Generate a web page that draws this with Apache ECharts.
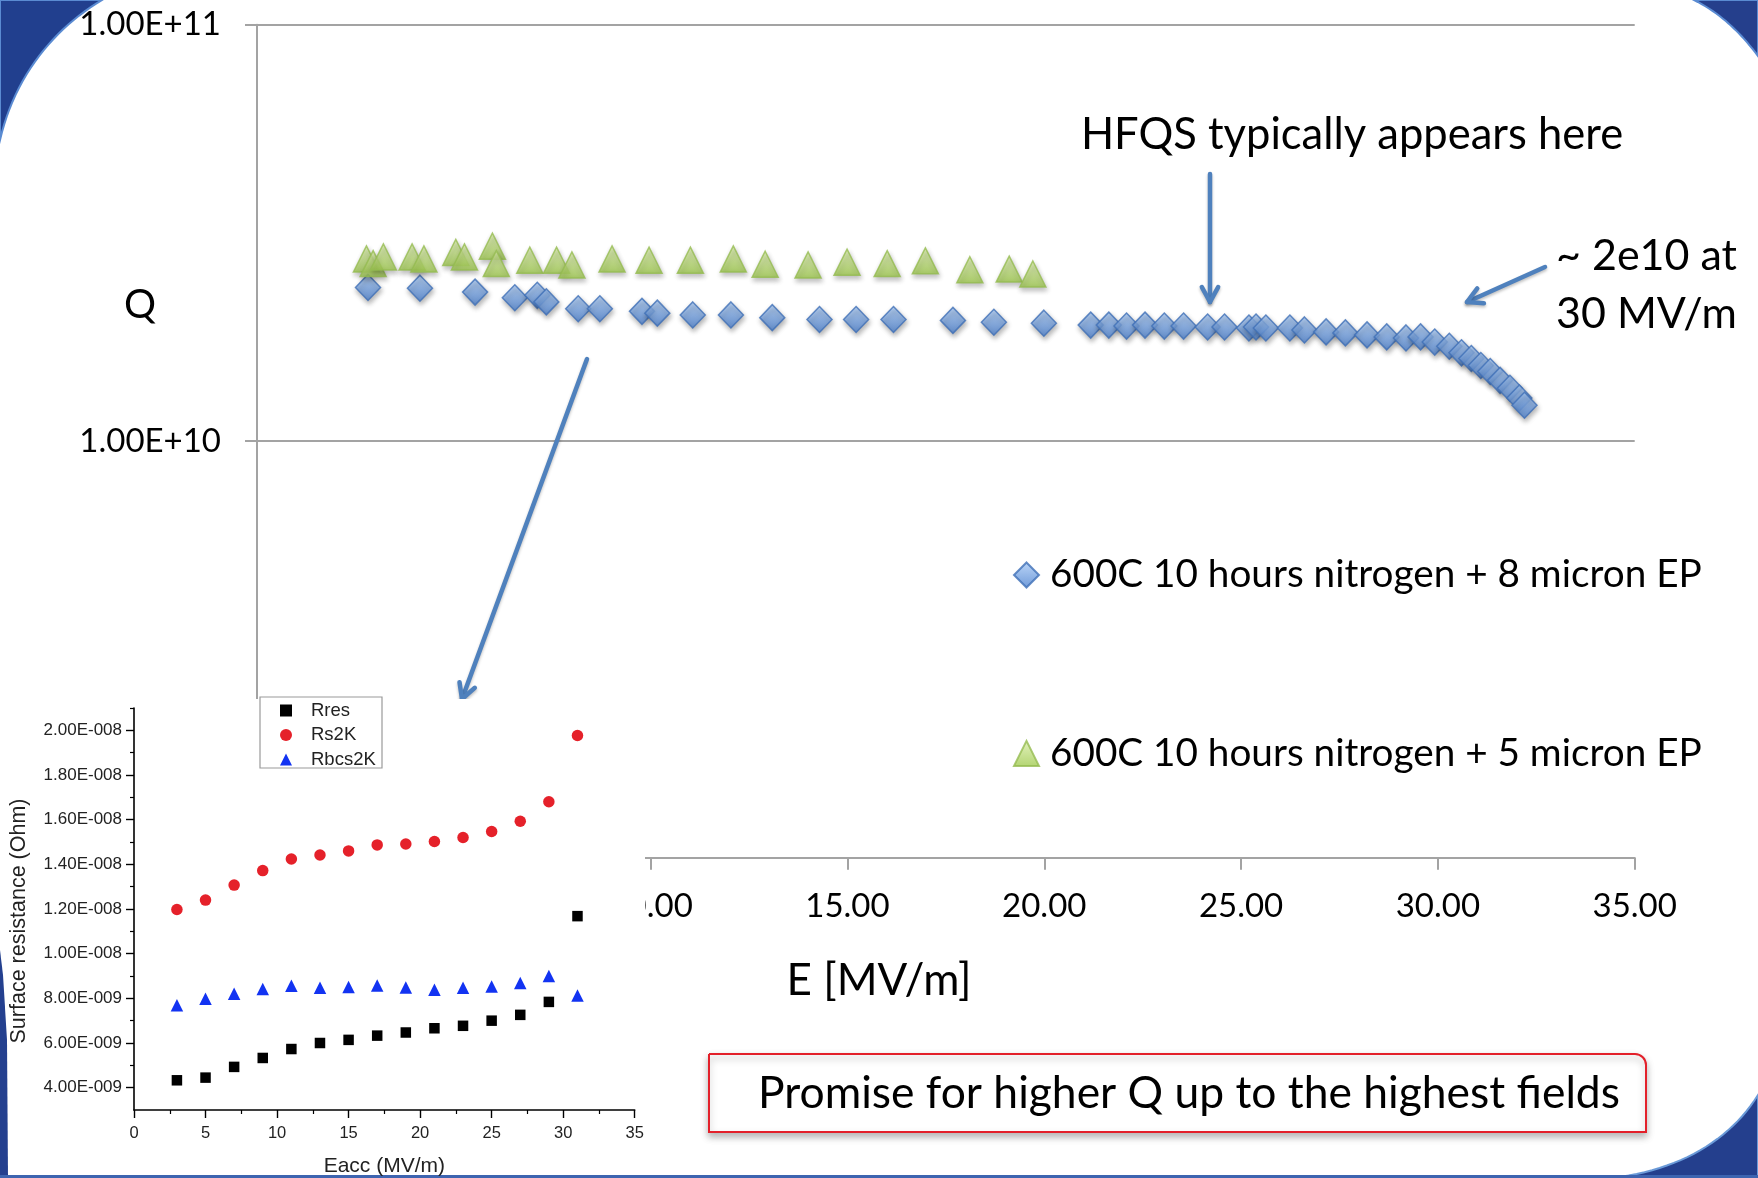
<!DOCTYPE html>
<html><head><meta charset="utf-8">
<script src="https://cdn.jsdelivr.net/npm/echarts@6/dist/echarts.min.js"></script>
<style>html,body{margin:0;padding:0;background:#fff}#c{width:1758px;height:1178px}</style>
</head><body><div id="c"></div>
<script>
// ---------- data ----------
const blueName = '600C 10 hours nitrogen + 8 micron EP';
const greenName = '600C 10 hours nitrogen + 5 micron EP';

const blueE = [2.82,4.14,5.54,6.55,7.12,7.35,8.16,8.71,9.78,10.17,11.07,12.04,13.09,14.29,15.22,16.17,17.68,18.72,19.99,21.18,21.64,22.09,22.56,23.05,23.54,24.15,24.58,25.2,25.38,25.63,26.24,26.61,27.16,27.65,28.2,28.7,29.19,29.56,29.92,30.29,30.6,30.85,31.09,31.33,31.58,31.83,32.07,32.2];
const blueQ = [2.34e10,2.33e10,2.28e10,2.21e10,2.24e10,2.16e10,2.08e10,2.08e10,2.05e10,2.03e10,2.01e10,2.01e10,1.98e10,1.96e10,1.96e10,1.96e10,1.95e10,1.93e10,1.92e10,1.90e10,1.90e10,1.89e10,1.90e10,1.89e10,1.89e10,1.88e10,1.88e10,1.87e10,1.88e10,1.87e10,1.87e10,1.85e10,1.83e10,1.82e10,1.80e10,1.78e10,1.77e10,1.78e10,1.73e10,1.69e10,1.63e10,1.58e10,1.52e10,1.47e10,1.40e10,1.34e10,1.27e10,1.22e10];

const greenE = [2.78,2.95,3.21,3.94,4.24,5.05,5.27,5.98,6.08,6.93,7.61,8.0,9.02,9.96,11.01,12.1,12.91,14.0,14.99,16.01,16.98,18.11,19.11,19.71];
const greenQ = [2.74e10,2.67e10,2.77e10,2.77e10,2.74e10,2.84e10,2.77e10,2.94e10,2.67e10,2.72e10,2.72e10,2.65e10,2.74e10,2.72e10,2.72e10,2.74e10,2.66e10,2.65e10,2.69e10,2.67e10,2.71e10,2.58e10,2.59e10,2.52e10];

const insetE = [3,5,7,9,11,13,15,17,19,21,23,25,27,29,31];
const rres   = [4.33e-9,4.45e-9,4.93e-9,5.33e-9,5.73e-9,6.00e-9,6.14e-9,6.33e-9,6.47e-9,6.66e-9,6.77e-9,7.00e-9,7.26e-9,7.84e-9,1.168e-8];
const rs2k   = [1.198e-8,1.240e-8,1.307e-8,1.372e-8,1.424e-8,1.442e-8,1.460e-8,1.487e-8,1.491e-8,1.502e-8,1.520e-8,1.547e-8,1.593e-8,1.680e-8,1.977e-8];
const rbcs2k = [7.69e-9,7.98e-9,8.20e-9,8.42e-9,8.56e-9,8.47e-9,8.51e-9,8.57e-9,8.48e-9,8.38e-9,8.47e-9,8.53e-9,8.69e-9,9.00e-9,8.13e-9];

const insetMajorY = [4e-9,6e-9,8e-9,1e-8,1.2e-8,1.4e-8,1.6e-8,1.8e-8,2e-8];
const insetMinorY = [5e-9,7e-9,9e-9,1.1e-8,1.3e-8,1.5e-8,1.7e-8,1.9e-8,2.1e-8];

// ---------- helpers ----------
function sci3(v){
  let e = Math.floor(Math.log10(v) + 1e-9);
  let m = v / Math.pow(10, e);
  if (m >= 9.995) { m /= 10; e += 1; }
  const s = e < 0 ? '-' : '+';
  return m.toFixed(2) + 'E' + s + String(Math.abs(e)).padStart(3, '0');
}
function sci2(v){
  const e = Math.round(Math.log10(v));
  const m = v / Math.pow(10, e);
  return m.toFixed(2) + 'E+' + String(e).padStart(2, '0');
}
function bez(p0, p1, p2, p3, n){
  const pts = [];
  for (let i = 0; i <= n; i++){
    const t = i / n, u = 1 - t;
    pts.push([u*u*u*p0[0] + 3*u*u*t*p1[0] + 3*u*t*t*p2[0] + t*t*t*p3[0],
              u*u*u*p0[1] + 3*u*u*t*p1[1] + 3*u*t*t*p2[1] + t*t*t*p3[1]]);
  }
  return pts;
}
const ARROW = '#4f81bd';
function arrow(x1, y1, x2, y2, z){
  const a = Math.atan2(y2 - y1, x2 - x1), L = 17, w = 0.5;
  const p1 = [x2 - L*Math.cos(a - w), y2 - L*Math.sin(a - w)];
  const p2 = [x2 - L*Math.cos(a + w), y2 - L*Math.sin(a + w)];
  const st = {stroke: ARROW, lineWidth: 4.5, lineCap: 'round', lineJoin: 'round', fill: null,
              shadowBlur: 3, shadowOffsetY: 2, shadowColor: 'rgba(0,0,0,0.25)'};
  return [
    {type: 'line', z: z, shape: {x1: x1, y1: y1, x2: x2, y2: y2}, style: st},
    {type: 'polyline', z: z, shape: {points: [p1, [x2, y2], p2]}, style: st}
  ];
}

const blueFill = new echarts.graphic.LinearGradient(0, 0, 0, 1, [{offset:0,color:'#aacbf6'},{offset:1,color:'#4c81cf'}]);
const greenFill = new echarts.graphic.LinearGradient(0, 0, 0, 1, [{offset:0,color:'#dcefad'},{offset:1,color:'#a0ca4f'}]);

const chart = echarts.init(document.getElementById('c'));

const slideFont = 'Lato';
const insetFont = 'Liberation Sans';

const tl = [[0,0]].concat(bez([102,0],[55,28],[15,75],[0,140],24));
const tr = [[1758,0],[1758,56]].concat(bez([1758,56],[1740,32],[1720,13],[1694,0],20));
const br = [[1758,1178],[1612,1178]].concat(bez([1612,1178],[1680,1170],[1730,1140],[1758,1095],24));

const graphics = [
  {type:'polygon', z:1, shape:{points:tl}, style:{fill:'#213f8e', stroke:'#5a8bd2', lineWidth:2}},
  {type:'polygon', z:1, shape:{points:tr}, style:{fill:'#253f8c', stroke:'#5a8bd2', lineWidth:2}},
  {type:'polygon', z:1, shape:{points:br}, style:{fill:'#243f8d', stroke:'#6a9ad8', lineWidth:2}},
  {type:'rect', z:1, shape:{x:0, y:1175, width:1758, height:3}, style:{fill:'#3d64b0'}},
  {type:'rect', z:5, shape:{x:0, y:699, width:645, height:479}, style:{fill:'#ffffff'}},
  {type:'polygon', z:6, shape:{points:[[0,950],[3,975],[7,1040],[8,1178],[0,1178]]}, style:{fill:'#24408f'}},
  {type:'rect', z:6, shape:{x:0, y:1175, width:645, height:3}, style:{fill:'#3d64b0'}},
  {type:'rect', z:12, shape:{x:260, y:697, width:122, height:71}, style:{fill:'rgba(0,0,0,0)', stroke:'#9a9a9a', lineWidth:1.2}},
  {type:'text', z:12, x:19, y:921, rotation:Math.PI/2, style:{text:'Surface resistance (Ohm)', font:'21.5px "Liberation Sans"', fill:'#222', align:'center', verticalAlign:'middle'}},
  {type:'text', z:3, x:140, y:305, style:{text:'Q', font:'40px Lato', fill:'#000', align:'center', verticalAlign:'middle'}},
  {type:'text', z:3, x:879, y:981, style:{text:'E [MV/m]', font:'44px Lato', fill:'#000', align:'center', verticalAlign:'middle'}},
  {type:'text', z:3, x:1352, y:135, style:{text:'HFQS typically appears here', font:'43.5px Lato', fill:'#000', align:'center', verticalAlign:'middle'}},
  {type:'text', z:3, x:1556, y:256, style:{text:'~ 2e10 at', font:'43px Lato', fill:'#000', align:'left', verticalAlign:'middle'}},
  {type:'text', z:3, x:1556, y:314, style:{text:'30 MV/m', font:'43px Lato', fill:'#000', align:'left', verticalAlign:'middle'}}
].concat(arrow(1210, 174, 1210, 302, 3), arrow(1545, 267, 1467, 302, 3), arrow(587, 359, 462, 699, 4), [
  {type:'rect', z:3, shape:{x:709, y:1054, width:937, height:78, r:[0,11,0,0]}, style:{fill:'#fff', stroke:'#e3202a', lineWidth:2, shadowBlur:7, shadowOffsetY:4, shadowColor:'rgba(0,0,0,0.28)'}},
  {type:'text', z:4, x:758, y:1094, style:{text:'Promise for higher Q up to the highest fields', font:'44.4px Lato', fill:'#000', align:'left', verticalAlign:'middle'}}
]);

const option = {
  animation: false,
  backgroundColor: '#ffffff',
  grid: [
    {left: 257, right: 123.3, top: 24.7, bottom: 320.3},
    {left: 134, right: 1123.3, top: 708, bottom: 68}
  ],
  xAxis: [
    {gridIndex:0, type:'value', min:0, max:35, interval:5, z:0,
     axisLine:{lineStyle:{color:'#a3a3a3', width:2}},
     axisTick:{show:true, length:12, lineStyle:{color:'#a3a3a3', width:2}},
     axisLabel:{margin:32, fontSize:33, fontFamily:slideFont, color:'#000', formatter:function(v){return v.toFixed(2);}},
     splitLine:{show:false}},
    {gridIndex:1, type:'value', min:0, max:35, interval:5, z:10,
     axisLine:{lineStyle:{color:'#000', width:1.6}},
     axisTick:{show:true, length:8, lineStyle:{color:'#000', width:1.4}},
     minorTick:{show:true, splitNumber:2, length:4, lineStyle:{color:'#000', width:1.2}},
     axisLabel:{margin:15, fontSize:16.5, fontFamily:insetFont, color:'#222'},
     splitLine:{show:false},
     name:'Eacc (MV/m)', nameLocation:'middle', nameGap:46,
     nameTextStyle:{fontSize:21, fontFamily:insetFont, color:'#222'}}
  ],
  yAxis: [
    {gridIndex:0, type:'log', logBase:10, min:1e9, max:1e11, z:0,
     axisLine:{show:true, lineStyle:{color:'#a3a3a3', width:2}},
     axisTick:{show:true, length:12, lineStyle:{color:'#a3a3a3', width:2}},
     axisLabel:{margin:36, fontSize:33, fontFamily:slideFont, color:'#000', formatter:sci2},
     splitLine:{show:true, lineStyle:{color:'#a3a3a3', width:2}}},
    {gridIndex:1, type:'value', min:3e-9, max:2.1e-8, position:'left', z:10,
     axisLine:{show:true, lineStyle:{color:'#000', width:1.6}},
     axisTick:{show:true, length:8, customValues:insetMajorY, lineStyle:{color:'#000', width:1.4}},
     axisLabel:{show:true, margin:12, fontSize:17, fontFamily:insetFont, color:'#222', customValues:insetMajorY, formatter:sci3},
     splitLine:{show:false}},
    {gridIndex:1, type:'value', min:3e-9, max:2.1e-8, position:'left', offset:0, z:10,
     axisLine:{show:false},
     axisTick:{show:true, length:4, customValues:insetMinorY, lineStyle:{color:'#000', width:1.2}},
     axisLabel:{show:false},
     splitLine:{show:false}}
  ],
  legend: [
    {data:[blueName, greenName], orient:'vertical', left:1013, top:555, padding:0,
     itemWidth:25, itemHeight:25, itemGap:138.4,
     itemStyle:{shadowColor:'rgba(0,0,0,0)', shadowBlur:0, shadowOffsetX:0, shadowOffsetY:0},
     textStyle:{fontFamily:slideFont, fontSize:38.7, lineHeight:40, color:'#000', padding:[0,0,0,6]}},
    {data:['Rres','Rs2K','Rbcs2K'], orient:'vertical', left:280, top:701, padding:0, z:12,
     itemWidth:12, itemHeight:12, itemGap:5.5,
     textStyle:{fontFamily:insetFont, fontSize:18.5, color:'#222', padding:[0,0,0,14]}}
  ],
  series: [
    {name:blueName, type:'scatter', xAxisIndex:0, yAxisIndex:0, z:2,
     symbol:'diamond', symbolSize:[25,26],
     itemStyle:{color:blueFill, borderColor:'#3f6fb6', borderWidth:1.5, shadowBlur:5, shadowOffsetX:1, shadowOffsetY:3, shadowColor:'rgba(0,0,0,0.35)'},
     data: blueE.map(function(e,i){return [e, blueQ[i]];})},
    {name:greenName, type:'scatter', xAxisIndex:0, yAxisIndex:0, z:2,
     symbol:'triangle', symbolSize:[26,26],
     itemStyle:{color:greenFill, borderColor:'#95bb50', borderWidth:1.5, shadowBlur:5, shadowOffsetX:1, shadowOffsetY:3, shadowColor:'rgba(0,0,0,0.3)'},
     data: greenE.map(function(e,i){return [e, greenQ[i]];})},
    {name:'Rres', type:'scatter', xAxisIndex:1, yAxisIndex:1, z:11,
     symbol:'rect', symbolSize:10.5, itemStyle:{color:'#000', opacity:1},
     data: insetE.map(function(e,i){return [e, rres[i]];})},
    {name:'Rs2K', type:'scatter', xAxisIndex:1, yAxisIndex:1, z:11,
     symbol:'circle', symbolSize:11.5, itemStyle:{color:'#e5212a', opacity:1},
     data: insetE.map(function(e,i){return [e, rs2k[i]];})},
    {name:'Rbcs2K', type:'scatter', xAxisIndex:1, yAxisIndex:1, z:11,
     symbol:'triangle', symbolSize:12.5, itemStyle:{color:'#1233f2', opacity:1},
     data: insetE.map(function(e,i){return [e, rbcs2k[i]];})}
  ],
  graphic: {elements: graphics}
};
chart.setOption(option);
</script></body></html>
